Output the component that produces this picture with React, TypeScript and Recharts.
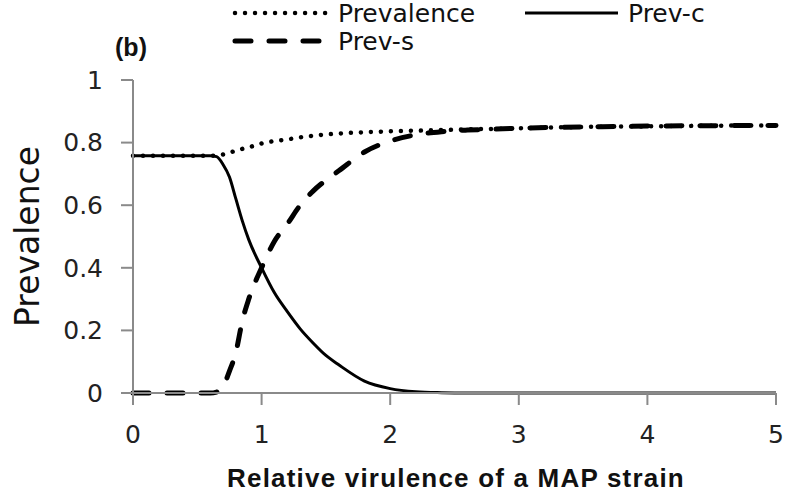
import React from 'react';
import { LineChart, Line, XAxis, YAxis } from 'recharts';

// relative virulence (x) sample points
const virulence = [0, 0.2, 0.4, 0.6, 0.65, 0.7, 0.75, 0.8, 0.85, 0.9, 1.0, 1.1, 1.2, 1.3, 1.4, 1.5, 1.6, 1.8, 2.0, 2.2, 2.4, 2.6, 2.8, 3.0, 3.5, 4.0, 4.5, 5.0];
const prevalence = [0.758, 0.758, 0.758, 0.758, 0.759, 0.762, 0.768, 0.774, 0.78, 0.785, 0.797, 0.805, 0.81, 0.817, 0.822, 0.826, 0.829, 0.833, 0.836, 0.838, 0.84, 0.842, 0.844, 0.846, 0.85, 0.852, 0.854, 0.855];
const prevC = [0.758, 0.758, 0.758, 0.758, 0.755, 0.73, 0.69, 0.62, 0.55, 0.49, 0.4, 0.32, 0.26, 0.205, 0.16, 0.12, 0.09, 0.038, 0.014, 0.004, 0.001, 0, 0, 0, 0, 0, 0, 0];
const prevS = [0, 0, 0, 0, 0.003, 0.02, 0.07, 0.13, 0.23, 0.3, 0.4, 0.485, 0.54, 0.6, 0.645, 0.68, 0.71, 0.77, 0.805, 0.825, 0.835, 0.84, 0.843, 0.846, 0.85, 0.853, 0.854, 0.855];

const xTicks = [0, 1, 2, 3, 4, 5];
const yTicks = [0, 0.2, 0.4, 0.6, 0.8, 1];

const SERIES = [
  { key: 'prevalence', name: 'Prevalence', width: 4.5, dash: '0.01 10', cap: 'round' },
  { key: 'prevC', name: 'Prev-c', width: 3, dash: undefined, cap: 'butt' },
  { key: 'prevS', name: 'Prev-s', width: 5, dash: '16 18', cap: 'round' },
];

const data = virulence.map((v, i) => ({
  x: v,
  prevalence: prevalence[i],
  prevC: prevC[i],
  prevS: prevS[i],
}));

const FONT = '"DejaVu Sans", sans-serif';
const AXIS_COLOR = '#8a8a8a';

// legend item placement (x of line start, y of row)
const LEGEND_POS = [
  { x: 232, y: 13 },
  { x: 522, y: 13 },
  { x: 232, y: 41 },
];

const YLabel = (props: any) => {
  const { viewBox } = props;
  const cx = 27;
  const cy = viewBox.y + viewBox.height / 2;
  return (
    <text x={cx} y={cy} transform={`rotate(-90, ${cx}, ${cy})`} textAnchor="middle" dominantBaseline="central"
      fontFamily={FONT} fontSize={33} fill="#111">Prevalence</text>
  );
};

const XLabel = (props: any) => {
  const { viewBox } = props;
  return (
    <text x={456} y={viewBox.y + 85} textAnchor="middle" dominantBaseline="central" letterSpacing={1.2}
      fontFamily='"Liberation Sans", sans-serif' fontWeight="bold" fontSize={26} fill="#111">
      Relative virulence of a MAP strain
    </text>
  );
};

const App: React.FC = () => {
  return (
    <div style={{ position: 'absolute', left: 0, top: 0, width: 787, height: 497, background: '#fff' }}>
      <LineChart width={787} height={497} data={data} margin={{ top: 80, right: 11, bottom: 0, left: 0 }}>
        <XAxis
          dataKey="x"
          type="number"
          domain={[0, 5]}
          ticks={xTicks}
          height={104}
          tickSize={12}
          tickMargin={20}
          stroke={AXIS_COLOR}
          strokeWidth={2}
          tick={{ fontFamily: FONT, fontSize: 25, fill: '#222' }}
          label={<XLabel />}
        />
        <YAxis
          type="number"
          domain={[0, 1]}
          ticks={yTicks}
          width={133}
          tickSize={12}
          tickMargin={18}
          stroke={AXIS_COLOR}
          strokeWidth={2}
          tick={{ fontFamily: FONT, fontSize: 25, fill: '#222' }}
          label={<YLabel />}
        />
        {SERIES.map(s => (
          <Line
            key={s.key}
            dataKey={s.key}
            name={s.name}
            type="monotone"
            stroke="#000"
            strokeWidth={s.width}
            strokeDasharray={s.dash}
            strokeLinecap={s.cap as any}
            dot={false}
            activeDot={false}
            isAnimationActive={false}
          />
        ))}
      </LineChart>
      <svg width={787} height={64} style={{ position: 'absolute', left: 0, top: 0 }}>
        {SERIES.map((s, i) => (
          <g key={s.key}>
            <line x1={LEGEND_POS[i].x + 3} x2={LEGEND_POS[i].x + 96} y1={LEGEND_POS[i].y} y2={LEGEND_POS[i].y}
              stroke="#000" strokeWidth={s.width} strokeDasharray={s.dash} strokeLinecap={s.cap as any} />
            <text x={LEGEND_POS[i].x + 106} y={LEGEND_POS[i].y} dominantBaseline="central"
              fontFamily={FONT} fontSize={25} fill="#111">{s.name}</text>
          </g>
        ))}
        <text x={131} y={47} textAnchor="middle" dominantBaseline="central"
          fontFamily='"Liberation Sans", sans-serif' fontWeight="bold" fontSize={25} fill="#111">(b)</text>
      </svg>
    </div>
  );
};

export default App;
